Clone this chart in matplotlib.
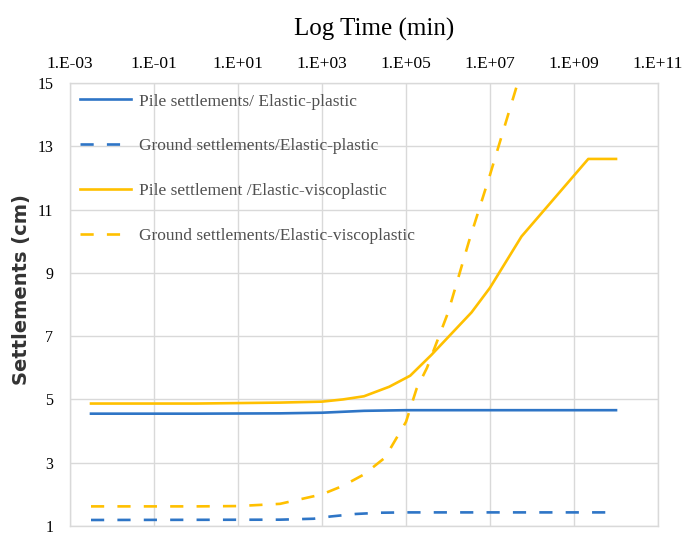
import numpy as np
import matplotlib
matplotlib.use("Agg")
import matplotlib.pyplot as plt

# ---- data (log10 time in min, settlement in cm) ----
pile_ep_logt = [-2.5, 0, 2, 3, 4, 5, 10]
pile_ep_val = [4.55, 4.55, 4.56, 4.58, 4.64, 4.66, 4.66]

ground_ep_logt = [-2.5, 2, 2.8, 3.2, 3.8, 4.4, 5, 10]
ground_ep_val = [1.19, 1.20, 1.23, 1.30, 1.38, 1.42, 1.43, 1.43]

pile_evp_logt = [-2.5, 0, 2, 3, 3.5, 4.0, 4.6, 5.1, 5.6, 6.56, 7.0, 7.75, 9.34, 10.0]
pile_evp_val = [4.87, 4.87, 4.90, 4.93, 5.0, 5.1, 5.4, 5.75, 6.4, 7.75, 8.53, 10.15, 12.6, 12.6]

ground_evp_logt = [-2.5, 0, 1, 2, 3, 3.5, 4.0, 4.5, 5.0, 5.25, 5.5, 6.0, 6.5, 7.0, 7.5, 8.0]
ground_evp_val = [1.62, 1.62, 1.63, 1.70, 2.0, 2.27, 2.63, 3.16, 4.29, 5.33, 6.0, 7.74, 10.0, 12.1, 14.3, 16.5]

labels = ["Pile settlements/ Elastic-plastic",
          "Ground settlements/Elastic-plastic",
          "Pile settlement /Elastic-viscoplastic",
          "Ground settlements/Elastic-viscoplastic"]

xtick_exp = [-3, -1, 1, 3, 5, 7, 9, 11]
xtick_labels = ["1.E-03", "1.E-01", "1.E+01", "1.E+03", "1.E+05", "1.E+07", "1.E+09", "1.E+11"]
yticks = [1, 3, 5, 7, 9, 11, 13, 15]

BLUE = "#2E75C6"
YELLOW = "#FFC000"
GRID = "#D9D9D9"
SERIF = "Liberation Serif"

TOP, BOT, LEFT, RIGHT = 83, 526, 70, 658
fig = plt.figure(figsize=(6.86, 5.38), dpi=100)
ax = fig.add_axes([LEFT/686, 1-BOT/538, (RIGHT-LEFT)/686, (BOT-TOP)/538])

t = lambda a: 10.0 ** np.array(a)
lw = 1.9
ax.plot(t(pile_ep_logt), pile_ep_val, color=BLUE, lw=lw, label=labels[0])
ax.plot(t(ground_ep_logt), ground_ep_val, color=BLUE, lw=lw, ls=(0, (5, 5)), label=labels[1])
ax.plot(t(pile_evp_logt), pile_evp_val, color=YELLOW, lw=lw, label=labels[2])
ax.plot(t(ground_evp_logt), ground_evp_val, color=YELLOW, lw=lw, ls=(0, (5, 5)), label=labels[3])

ax.set_xscale("log")
ax.set_xlim(1e-3, 1e11)
ax.set_ylim(1, 15)
ax.set_xticks([10.0 ** e for e in xtick_exp])
ax.set_xticklabels(xtick_labels, fontsize=12.5, family=SERIF)
ax.minorticks_off()
ax.set_yticks(yticks)
ax.set_yticklabels([str(v) for v in yticks], fontsize=11.5, family=SERIF)
ax.xaxis.tick_top()
ax.xaxis.set_label_position("top")
ax.tick_params(axis="x", length=0, pad=8)
ax.tick_params(axis="y", length=0, pad=12)
ax.grid(True, color=GRID, lw=1)
for s in ax.spines.values():
    s.set_color(GRID)
    s.set_linewidth(1)

ax.set_xlabel("Log Time (min)", fontsize=18, family=SERIF)
ax.xaxis.set_label_coords((374 - LEFT) / (RIGHT - LEFT), (BOT - 36) / (BOT - TOP))
ax.set_ylabel("Settlements (cm)", fontsize=14, family="DejaVu Sans", fontweight="bold",
              color="#333333")
ax.yaxis.set_label_coords((31 - LEFT) / (RIGHT - LEFT), (BOT - 290) / (BOT - TOP))

leg = ax.legend(loc="upper left", frameon=False, handlelength=2.9,
                handletextpad=0.45, labelspacing=1.65, borderaxespad=0.2,
                prop={"family": SERIF, "size": 12.5})
for txt in leg.get_texts():
    txt.set_color("#505050")

fig.savefig("out.png", dpi=100)
